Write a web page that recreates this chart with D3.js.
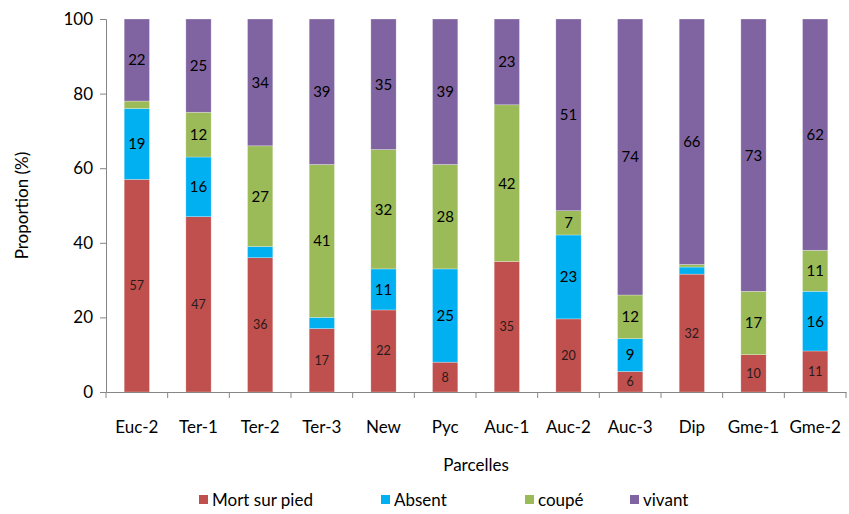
<!DOCTYPE html>
<html>
<head>
<meta charset="utf-8">
<script src="https://cdn.jsdelivr.net/npm/d3@7/dist/d3.min.js"></script>
<style>
  html, body { margin: 0; padding: 0; background: #fff; }
  svg { display: block; font-family: Lato, "Open Sans", sans-serif; }
</style>
</head>
<body>
<svg id="chart" width="849" height="514"></svg>
<script>
// Parcels (x categories)
const parcelles = ["Euc-2", "Ter-1", "Ter-2", "Ter-3", "New", "Pyc", "Auc-1", "Auc-2", "Auc-3", "Dip", "Gme-1", "Gme-2"];

// Proportions (%) per status, one array per series
const mortSurPied = [57, 47, 36, 17, 22, 8, 35, 19.6, 5.5, 31.6, 10, 11];
const absent      = [19, 16, 3, 3, 11, 25, 0, 22.5, 8.8, 1.9, 0, 16];
const coupe       = [2, 12, 27, 41, 32, 28, 42, 6.5, 11.7, 0.7, 17, 11];
const vivant      = [22, 25, 34, 39, 35, 39, 23, 51.4, 74, 65.8, 73, 62];

const seriesNames = ["Mort sur pied", "Absent", "coupé", "vivant"];
const seriesValues = [mortSurPied, absent, coupe, vivant];
const seriesColors = ["#C0504D", "#00B0F0", "#9BBB59", "#8064A2"];

const yTicks = [0, 20, 40, 60, 80, 100];

const svg = d3.select("#chart");
const margin = { left: 106, right: 3, top: 19, bottom: 122 };
const W = 849, H = 514;

const x = d3.scaleBand()
  .domain(parcelles)
  .range([margin.left, W - margin.right])
  .paddingInner(0.59)
  .paddingOuter(0.295);

const y = d3.scaleLinear()
  .domain([0, 100])
  .range([H - margin.bottom, margin.top]);

// Build stacked table
const rows = parcelles.map((p, i) => {
  const r = { parcelle: p };
  seriesNames.forEach((s, k) => { r[s] = seriesValues[k][i]; });
  return r;
});
const stacked = d3.stack().keys(seriesNames)(rows);
const color = d3.scaleOrdinal().domain(seriesNames).range(seriesColors);

// Bars
const layers = svg.append("g").selectAll("g")
  .data(stacked).join("g")
  .attr("fill", d => color(d.key));

layers.selectAll("rect")
  .data(d => d.map(v => ({ key: d.key, v })))
  .join("rect")
  .attr("x", d => x(d.v.data.parcelle))
  .attr("width", x.bandwidth())
  .attr("y", d => y(d.v[1]))
  .attr("height", d => Math.max(0, y(d.v[0]) - y(d.v[1])))
  .attr("stroke", "rgba(255,255,255,0.45)")
  .attr("stroke-width", 0.6);

// Value labels
const fmt = d3.format(".0f");
layers.selectAll("text")
  .data(d => d.map(v => ({ key: d.key, v })).filter(o => (o.v[1] - o.v[0]) >= 5))
  .join("text")
  .attr("x", d => x(d.v.data.parcelle) + x.bandwidth() / 2)
  .attr("y", d => (y(d.v[0]) + y(d.v[1])) / 2)
  .attr("dy", "0.36em")
  .attr("text-anchor", "middle")
  .attr("fill", d => d.key === "Mort sur pied" ? "#2a1a1a" : "#000")
  .attr("font-size", d => d.key === "Mort sur pied" ? 12.5 : 15)
  .text(d => fmt(d.v[1] - d.v[0]));

// Y axis
const yAxis = svg.append("g")
  .attr("transform", `translate(${margin.left},0)`)
  .call(d3.axisLeft(y).tickValues(yTicks).tickSize(6).tickPadding(7));
yAxis.select(".domain").attr("stroke", "#868686");
yAxis.selectAll(".tick line").attr("stroke", "#868686");
yAxis.selectAll(".tick text").attr("font-size", 17).attr("fill", "#000")
  .attr("font-family", "Lato, sans-serif");

// X axis
const xAxis = svg.append("g")
  .attr("transform", `translate(0,${y(0)})`)
  .call(d3.axisBottom(x).tickSize(0).tickPadding(29));
xAxis.select(".domain").attr("stroke", "#868686");
xAxis.selectAll(".tick text").attr("font-size", 17).attr("fill", "#000")
  .attr("font-family", "Lato, sans-serif");
// category separators
const step = x.step();
xAxis.selectAll(".sep")
  .data(d3.range(parcelles.length + 1))
  .join("line")
  .attr("x1", i => margin.left + i * step)
  .attr("x2", i => margin.left + i * step)
  .attr("y1", 0).attr("y2", 6)
  .attr("stroke", "#868686");

// Axis titles
svg.append("text")
  .attr("x", (margin.left + W - margin.right) / 2)
  .attr("y", 471)
  .attr("text-anchor", "middle")
  .attr("font-size", 17)
  .text("Parcelles");

svg.append("text")
  .attr("transform", `translate(28,${(y(0) + y(100)) / 2}) rotate(-90)`)
  .attr("text-anchor", "middle")
  .attr("font-size", 17)
  .text("Proportion (%)");

// Legend
const legendX = [199, 381, 525, 630];
const legend = svg.append("g").selectAll("g")
  .data(seriesNames).join("g")
  .attr("transform", (d, i) => `translate(${legendX[i]},500)`);
legend.append("rect")
  .attr("x", 0).attr("y", -5).attr("width", 9).attr("height", 9)
  .attr("fill", d => color(d));
legend.append("text")
  .attr("x", 13).attr("y", 0).attr("dy", "0.36em")
  .attr("font-size", 17)
  .text(d => d);
</script>
</body>
</html>
